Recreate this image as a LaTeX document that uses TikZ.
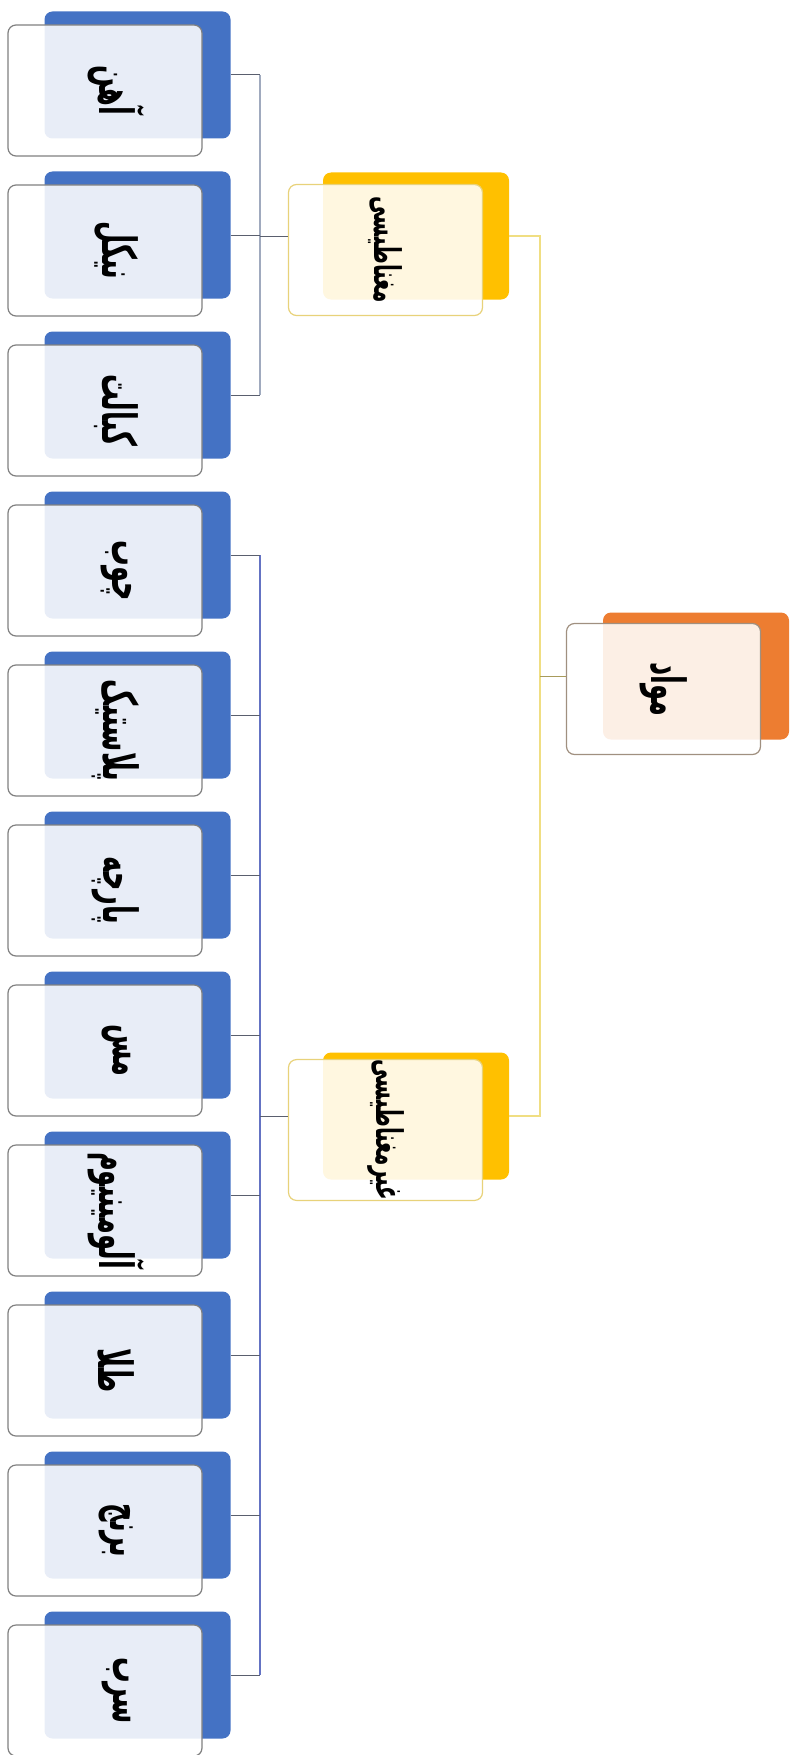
\documentclass[tikz,border=0pt]{standalone}
\usepackage{fontspec}
\usepackage{graphicx}
\newfontfamily\arabicfont[Script=Arabic]{DejaVu Sans}
\TeXXeTstate=1
\definecolor{leafblue}{RGB}{68,114,196}
\definecolor{midyellow}{RGB}{255,192,0}
\definecolor{rootorange}{RGB}{237,125,49}
\definecolor{leafedge}{RGB}{128,128,128}
\definecolor{midedge}{RGB}{232,210,122}
\definecolor{rootedge}{RGB}{160,144,128}
\definecolor{busgray}{RGB}{160,170,190}
\definecolor{busblue}{RGB}{100,115,195}
\definecolor{busyellow}{RGB}{240,222,130}
\definecolor{tickgray}{RGB}{90,95,110}
\newcommand{\fa}[1]{\rotatebox{-90}{\scalebox{0.95}[1.75]{\arabicfont\bfseries\beginR #1\endR}}}
\begin{document}
\begin{tikzpicture}[x=1pt,y=-1pt,
		shadowbox/.style={rectangle,rounded corners=8pt,inner sep=0pt,minimum width=186pt,minimum height=127pt},
		frontbox/.style={rectangle,rounded corners=8pt,inner sep=0pt,minimum width=194pt,minimum height=131pt,
			fill=white,fill opacity=0.88,text opacity=1,line width=1.2pt,font=\fontsize{27}{30}\selectfont},
		leafshadow/.style={shadowbox,fill=leafblue},
		leaf/.style={frontbox,draw=leafedge,execute at begin node={\hspace*{22pt}}},
		midshadow/.style={shadowbox,fill=midyellow},
		mid/.style={frontbox,draw=midedge,font=\fontsize{21}{24}\selectfont},
		rootshadow/.style={shadowbox,fill=rootorange},
		rootbox/.style={frontbox,draw=rootedge},
		tick/.style={draw=tickgray,line width=1pt}]
	\useasboundingbox (0,0) rectangle (795,1755);

	% Bus positions
	\coordinate (busA) at (260,0);
	\coordinate (busB) at (540,0);

	% Leaf shadows
	\node[leafshadow] (ironsh) at (137.5,75) {};
	\node[leafshadow] (nickelsh) at (137.5,235) {};
	\node[leafshadow] (cobaltsh) at (137.5,395) {};
	\node[leafshadow] (woodsh) at (137.5,555) {};
	\node[leafshadow] (plasticsh) at (137.5,715) {};
	\node[leafshadow] (clothsh) at (137.5,875) {};
	\node[leafshadow] (coppersh) at (137.5,1035) {};
	\node[leafshadow] (alumsh) at (137.5,1195) {};
	\node[leafshadow] (goldsh) at (137.5,1355) {};
	\node[leafshadow] (brasssh) at (137.5,1515) {};
	\node[leafshadow] (leadsh) at (137.5,1675) {};

	% Leaf boxes
	\node[leaf] (iron) at (105,90.5) {\fa{آهن}};
	\node[leaf] (nickel) at (105,250.5) {\fa{نیکل}};
	\node[leaf] (cobalt) at (105,410.5) {\fa{کبالت}};
	\node[leaf] (wood) at (105,570.5) {\fa{چوب}};
	\node[leaf] (plastic) at (105,730.5) {\fa{پلاستیک}};
	\node[leaf] (cloth) at (105,890.5) {\fa{پارچه}};
	\node[leaf] (copper) at (105,1050.5) {\fa{مس}};
	\node[leaf] (alum) at (105,1210.5) {\fa{آلومینیوم}};
	\node[leaf] (gold) at (105,1370.5) {\fa{طلا}};
	\node[leaf] (brass) at (105,1530.5) {\fa{برنج}};
	\node[leaf] (lead) at (105,1690.5) {\fa{سرب}};

	% Middle level
	\node[midshadow] (magsh) at (416,236) {};
	\node[mid] (mag) at (385.5,250) {\fa{مغناطیسی}};
	\node[midshadow] (nonmagsh) at (416,1116) {};
	\node[mid] (nonmag) at (385.5,1130) {\fa{غیرمغناطیسی}};

	% Root
	\node[rootshadow] (rootsh) at (696,676) {};
	\node[rootbox] (root) at (663.5,689) {\fa{مواد}};

	% Connectors -- magnetic group
	\draw[busgray,line width=2.5pt] (ironsh.east -| busA) -- (cobaltsh.east -| busA);
	\draw[tick] (ironsh.east) -- (ironsh.east -| busA);
	\draw[tick] (nickelsh.east) -- (nickelsh.east -| busA);
	\draw[tick] (cobaltsh.east) -- (cobaltsh.east -| busA);
	\draw[tick] (magsh.center -| busA) -- (magsh.center -| mag.west);

	% Connectors -- non-magnetic group
	\draw[busblue,line width=2.5pt] (woodsh.east -| busA) -- (leadsh.east -| busA);
	\draw[tick] (woodsh.east) -- (woodsh.east -| busA);
	\draw[tick] (plasticsh.east) -- (plasticsh.east -| busA);
	\draw[tick] (clothsh.east) -- (clothsh.east -| busA);
	\draw[tick] (coppersh.east) -- (coppersh.east -| busA);
	\draw[tick] (alumsh.east) -- (alumsh.east -| busA);
	\draw[tick] (goldsh.east) -- (goldsh.east -| busA);
	\draw[tick] (brasssh.east) -- (brasssh.east -| busA);
	\draw[tick] (leadsh.east) -- (leadsh.east -| busA);
	\draw[tick] (nonmagsh.center -| busA) -- (nonmagsh.center -| nonmag.west);

	% Connectors -- root
	\draw[busyellow,line width=2.5pt] (magsh.east) -- (magsh.east -| busB) -- (nonmagsh.east -| busB) -- (nonmagsh.east);
	\draw[busyellow!70!black,line width=1pt] (rootsh.center -| busB) -- (rootsh.center -| root.west);
\end{tikzpicture}
\end{document}
